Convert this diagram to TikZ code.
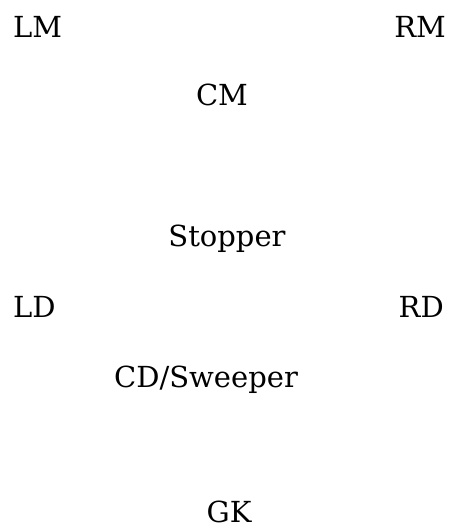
\documentclass[tikz,border=0pt]{standalone}
\usepackage{fontspec}
\setmainfont{DejaVu Serif}
\begin{document}
\begin{tikzpicture}
  [x=1pt,y=-1pt,every node/.style={inner sep=0pt,text depth=0pt,font=\fontsize{29}{34}\selectfont}]
  \tikzstyle{left} = [anchor=base west]
  \tikzstyle{right} = [anchor=base east]
  \tikzstyle{mid} = [anchor=base]
  \useasboundingbox (0,0) rectangle (452,531);
  % midfield
  \node[left] (lm) at (13,37) {LM};
  \node[right] (rm) at (446,37) {RM};
  \node[mid] (cm) at (222,105) {CM};
  % defence
  \node[mid] (stopper) at (227,246) {Stopper};
  \node[left] (ld) at (13,317) {LD};
  \node[right] (rd) at (444,317) {RD};
  \node[mid] (cd) at (206,387) {CD/Sweeper};
  % keeper
  \node[mid] (gk) at (229,522) {GK};
\end{tikzpicture}
\end{document}
